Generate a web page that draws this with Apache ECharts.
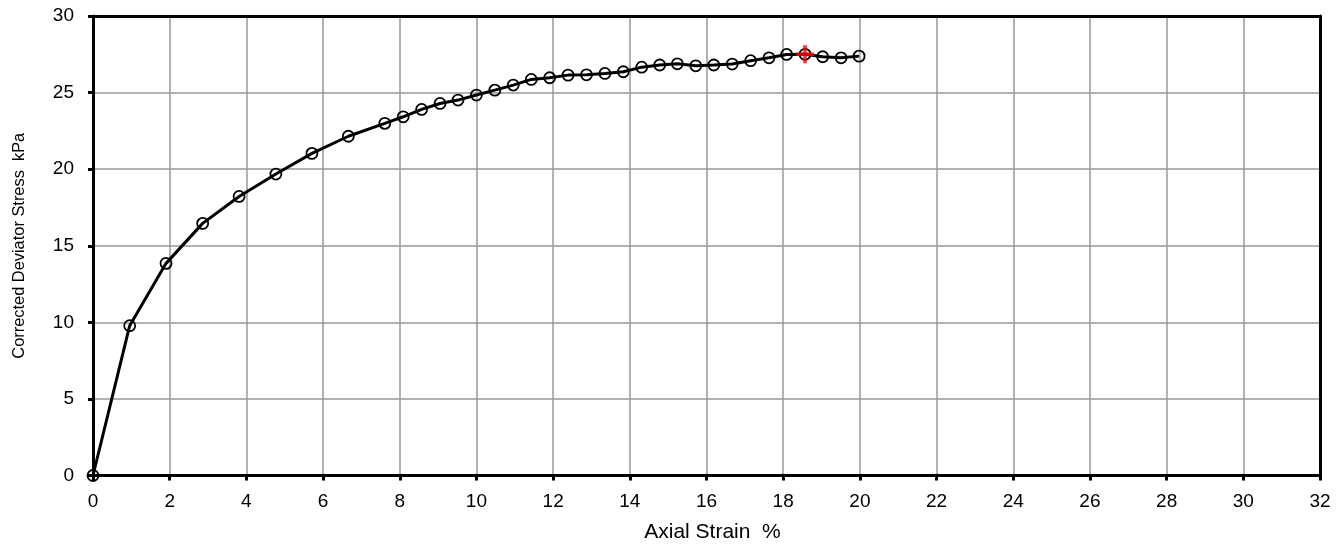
<!DOCTYPE html>
<html>
<head>
<meta charset="utf-8">
<script src="https://cdn.jsdelivr.net/npm/echarts@6/dist/echarts.min.js"></script>
<style>
html,body{margin:0;padding:0;background:#fff;}
#chart{width:1344px;height:545px;}
</style>
</head>
<body>
<div id="chart"></div>
<script>
// Data
var axialStrain = [0, 0.957, 1.905, 2.86, 3.81, 4.77, 5.71, 6.66, 7.61, 8.09, 8.57, 9.05, 9.52, 10.0, 10.48, 10.96, 11.43, 11.91, 12.39, 12.87, 13.35, 13.83, 14.31, 14.78, 15.24, 15.72, 16.19, 16.67, 17.15, 17.63, 18.09, 18.57, 19.03, 19.51, 19.98];
var deviatorStress = [0, 9.78, 13.85, 16.46, 18.22, 19.68, 21.03, 22.15, 22.99, 23.42, 23.9, 24.29, 24.51, 24.84, 25.16, 25.49, 25.86, 25.97, 26.14, 26.16, 26.25, 26.36, 26.66, 26.8, 26.88, 26.75, 26.8, 26.86, 27.08, 27.27, 27.49, 27.5, 27.34, 27.27, 27.38];
var peakStrain = [18.57];
var peakStress = [27.5];
var xTicks = [0, 32, 2];   // min, max, interval
var yTicks = [0, 30, 5];
var xName = 'Axial Strain  %';
var yName = 'Corrected Deviator Stress  kPa';

var font = "'Liberation Sans', Arial, sans-serif";
var curve = axialStrain.map(function (x, i) { return [x, deviatorStress[i]]; });
var peak = peakStrain.map(function (x, i) { return [x, peakStress[i]]; });

var chart = echarts.init(document.getElementById('chart'), null, {renderer: 'canvas'});
chart.setOption({
  animation: false,
  backgroundColor: '#fff',
  grid: {left: 93, right: 24, top: 16, bottom: 69.5, containLabel: false, outerBoundsMode: 'none'},
  xAxis: [{
    type: 'value', min: xTicks[0], max: xTicks[1], interval: xTicks[2],
    name: xName, nameLocation: 'middle', nameGap: 46,
    nameTextStyle: {color: '#000', fontSize: 21, fontFamily: font, padding: [0, 0, 0, 12]},
    axisLine: {show: true, onZero: false, lineStyle: {color: '#000', width: 3}},
    axisTick: {show: true, length: 5, lineStyle: {color: '#000', width: 3}},
    axisLabel: {color: '#000', fontSize: 19, fontFamily: font, margin: 17},
    splitLine: {show: true, lineStyle: {color: '#999', width: 1.5}}
  }, {
    type: 'value', position: 'top', min: xTicks[0], max: xTicks[1], interval: xTicks[2],
    axisLine: {show: true, onZero: false, lineStyle: {color: '#000', width: 3}},
    axisTick: {show: false}, axisLabel: {show: false}, splitLine: {show: false}, z: 5
  }],
  yAxis: [{
    type: 'value', min: yTicks[0], max: yTicks[1], interval: yTicks[2],
    name: yName, nameLocation: 'middle', nameGap: 66,
    nameTextStyle: {color: '#000', fontSize: 16.4, fontFamily: font},
    axisLine: {show: true, onZero: false, lineStyle: {color: '#000', width: 3}},
    axisTick: {show: true, length: 5, lineStyle: {color: '#000', width: 3}},
    axisLabel: {color: '#000', fontSize: 19, fontFamily: font, margin: 19},
    splitLine: {show: true, lineStyle: {color: '#999', width: 1.5}}
  }, {
    type: 'value', position: 'right', min: yTicks[0], max: yTicks[1], interval: yTicks[2],
    axisLine: {show: true, onZero: false, lineStyle: {color: '#000', width: 3}},
    axisTick: {show: false}, axisLabel: {show: false}, splitLine: {show: false}, z: 5
  }],
  series: [{
    type: 'line', data: curve, xAxisIndex: 0, yAxisIndex: 0,
    symbol: 'circle', symbolSize: 11,
    lineStyle: {color: '#000', width: 3},
    itemStyle: {color: 'rgba(0,0,0,0)', borderColor: '#000', borderWidth: 1.8},
    z: 3
  }, {
    type: 'scatter', data: peak, xAxisIndex: 0, yAxisIndex: 0,
    symbol: 'path://M4,0 L6,0 L6,4 L10,4 L10,6 L6,6 L6,10 L4,10 L4,6 L0,6 L0,4 L4,4 Z',
    symbolSize: 18,
    itemStyle: {color: '#ff0000'},
    z: 4
  }]
});
</script>
</body>
</html>
